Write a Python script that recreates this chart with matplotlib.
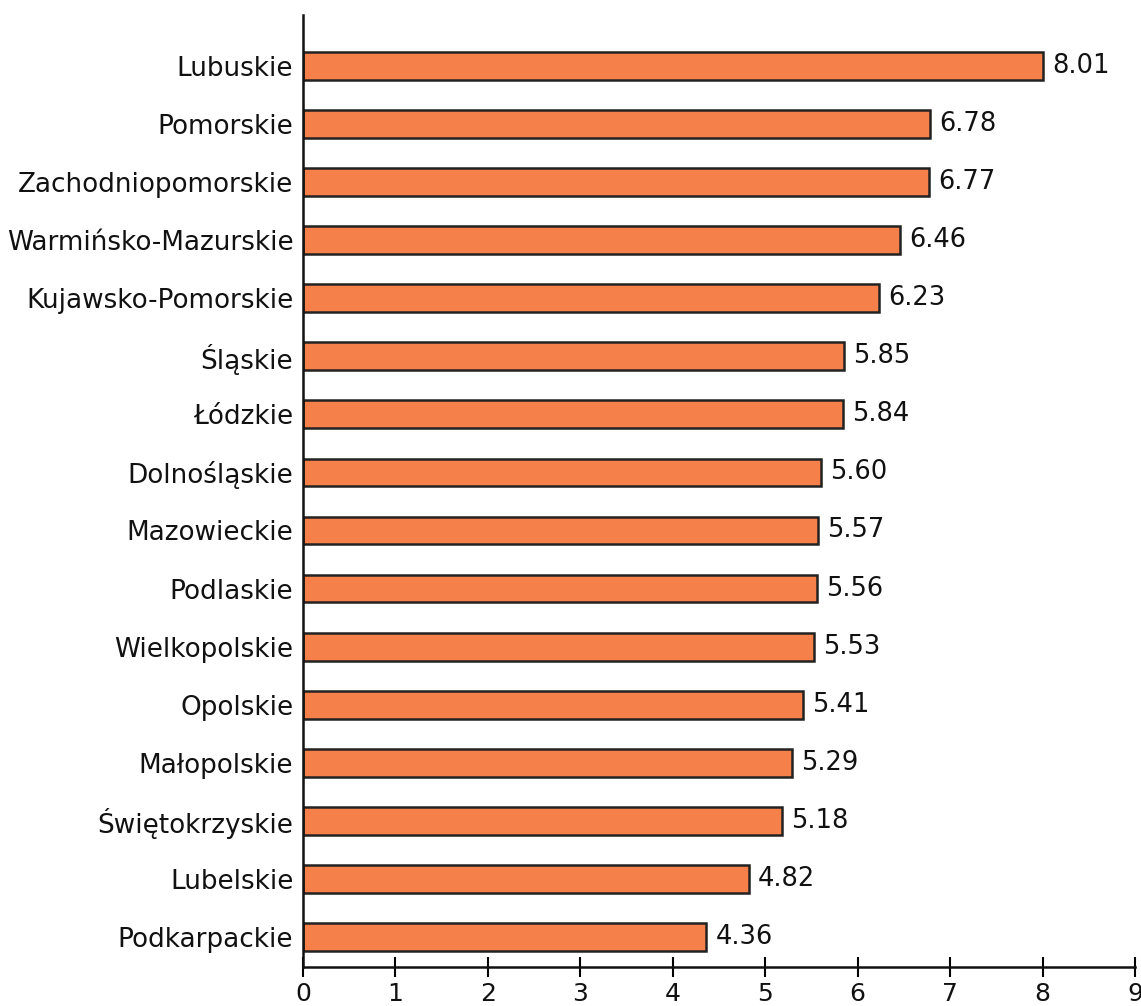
import matplotlib
matplotlib.use("Agg")
import matplotlib.pyplot as plt

regions = ["Lubuskie", "Pomorskie", "Zachodniopomorskie", "Warmińsko-Mazurskie",
           "Kujawsko-Pomorskie", "Śląskie", "Łódzkie", "Dolnośląskie", "Mazowieckie",
           "Podlaskie", "Wielkopolskie", "Opolskie", "Małopolskie", "Świętokrzyskie",
           "Lubelskie", "Podkarpackie"]
values = [8.01, 6.78, 6.77, 6.46, 6.23, 5.85, 5.84, 5.60, 5.57, 5.56, 5.53, 5.41,
          5.29, 5.18, 4.82, 4.36]
xticks = [0, 1, 2, 3, 4, 5, 6, 7, 8, 9]

plt.rcParams['font.family'] = ['DejaVu Sans']
fig = plt.figure(figsize=(11.41, 10.06), dpi=100)
ax = fig.add_axes([0.2656, 0.0388, 0.9947 - 0.2656, 0.985 - 0.0388])

ypos = list(range(len(regions)))
ax.barh(ypos, values, height=0.48, color='#F6804A', edgecolor='#222222', linewidth=1.8)
for y, v in zip(ypos, values):
    ax.text(v + 0.1, y, f"{v:.2f}", va='center', ha='left', fontsize=18.5, color='#111111')

ax.set_yticks(ypos)
ax.set_yticklabels(regions, fontsize=18.9, color='#111111')
ax.set_ylim(len(regions) - 1 + 0.52, -0.88)
ax.set_xlim(0, 9)
ax.set_xticks(xticks)
ax.set_xticklabels([str(t) for t in xticks], fontsize=18, color='#111111')
ax.tick_params(axis='y', length=0, pad=7)
ax.tick_params(axis='x', direction='inout', length=15, width=1.5, pad=3)
for s in ['top', 'right']:
    ax.spines[s].set_visible(False)
for s in ['left', 'bottom']:
    ax.spines[s].set_linewidth(1.8)
    ax.spines[s].set_color('#111111')

fig.savefig("out.png", dpi=100)
